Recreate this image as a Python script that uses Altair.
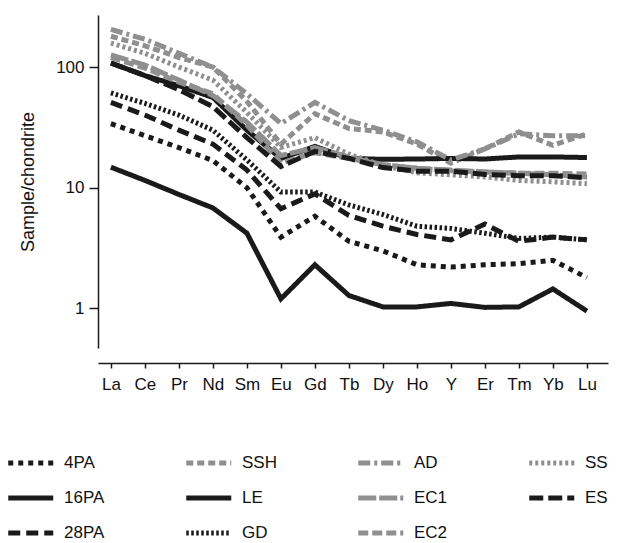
import altair as alt
import pandas as pd

elements = ["La", "Ce", "Pr", "Nd", "Sm", "Eu", "Gd", "Tb", "Dy", "Ho", "Y", "Er", "Tm", "Yb", "Lu"]

s_4PA = [34, 27, 21.5, 16.8, 10, 3.9, 5.8, 3.6, 3.0, 2.3, 2.2, 2.3, 2.35, 2.5, 1.8]
s_16PA = [14.8, 11.5, 8.8, 6.8, 4.2, 1.2, 2.3, 1.28, 1.03, 1.03, 1.1, 1.02, 1.03, 1.45, 0.95]
s_28PA = [51, 40, 30, 23, 14, 6.7, 8.9, 5.9, 4.8, 4.1, 3.7, 5.0, 3.6, 3.9, 3.7]
s_SSH = [180, 150, 120, 100, 52, 23, 41, 31, 29, 23, 16, 21, 29, 22.5, 28]
s_LE = [108, 85, 70, 56, 30, 17.5, 22, 17.5, 17.2, 17.3, 17.5, 17.3, 18, 18, 17.8]
s_GD = [61, 50, 40, 30, 17, 9.2, 9.2, 7.2, 6.0, 4.8, 4.6, 4.2, 3.8, 3.9, 3.7]
s_AD = [205, 170, 130, 100, 60, 34, 51, 36, 30, 24, 17, 21, 28, 27, 27]
s_EC1 = [126, 104, 78, 58, 35, 18.5, 21.5, 18, 15.5, 14.5, 14, 13.5, 13.2, 12.8, 12.3]
s_EC2 = [120, 98, 75, 60, 33, 16, 19.5, 17.5, 15.5, 14.5, 13.8, 13.5, 13.2, 13.2, 13]
s_SS = [158, 130, 100, 78, 42, 21.6, 26, 19, 15.3, 13.3, 12.8, 12.3, 11.5, 11.2, 10.8]
s_ES = [108, 85, 65, 47, 26, 15, 20, 17.5, 14.7, 13.7, 13.7, 12.9, 12.6, 12.6, 12.1]

# legend order (filled column by column, 4 columns x 3 rows)
series_names = ["4PA", "16PA", "28PA", "SSH", "LE", "GD", "AD", "EC1", "EC2", "SS", "ES"]
series_values = {
    "4PA": s_4PA, "16PA": s_16PA, "28PA": s_28PA,
    "SSH": s_SSH, "LE": s_LE, "GD": s_GD,
    "AD": s_AD, "EC1": s_EC1, "EC2": s_EC2,
    "SS": s_SS, "ES": s_ES,
}

BLACK = "#1a1a1a"
GRAY = "#8f8f8f"
colors = [BLACK, BLACK, BLACK, GRAY, BLACK, BLACK, GRAY, GRAY, GRAY, GRAY, BLACK]
dashes = [[5, 5], [1, 0], [12, 6], [7, 4], [1, 0], [2.5, 2.5], [12, 4, 3, 4], [18, 3], [10, 4], [3, 3], [14, 5]]
widths = [5, 5, 5, 3.2, 2.5, 2.5, 3.2, 3.5, 3.5, 3.2, 3]

rows = []
for name in series_names:
    for el, v in zip(elements, series_values[name]):
        rows.append({"series": name, "element": el, "value": v})
df = pd.DataFrame(rows)

FONT = "Liberation Sans"

legend = alt.Legend(
    title=None,
    orient="none",
    legendX=-90,
    legendY=438,
    direction="vertical",
    columns=4,
    symbolType="M-1.3,0H4.7",
    symbolSize=225,
    labelFontSize=17,
    labelFont=FONT,
    labelColor="#111111",
    columnPadding=71,
    rowPadding=15,
    labelOffset=36,
)

chart = alt.Chart(df).mark_line().encode(
    x=alt.X("element:N", sort=elements,
            scale=alt.Scale(type="point", padding=0.5, align=0.38),
            axis=alt.Axis(title=None, labelAngle=0, labelFontSize=17, labelFont=FONT,
                          labelColor="#111111", tickSize=5, tickColor=BLACK, tickWidth=1.5,
                          domainColor=BLACK, domainWidth=1.5, offset=15, labelPadding=8,
                          grid=False)),
    y=alt.Y("value:Q",
            scale=alt.Scale(type="log", domain=[0.47, 270], nice=False),
            axis=alt.Axis(title="Sample/chondrite", values=[1, 10, 100], format="d",
                          labelFontSize=17, labelFont=FONT, labelColor="#111111",
                          titleFontSize=18, titleFont=FONT, titleFontWeight="normal",
                          titleColor="#111111", titlePadding=18,
                          tickSize=9, tickColor=BLACK, tickWidth=1.5,
                          domainColor=BLACK, domainWidth=1.5, grid=False, labelPadding=5)),
    color=alt.Color("series:N", scale=alt.Scale(domain=series_names, range=colors), legend=legend),
    strokeDash=alt.StrokeDash("series:N", scale=alt.Scale(domain=series_names, range=dashes), legend=legend),
    strokeWidth=alt.StrokeWidth("series:N", scale=alt.Scale(domain=series_names, range=widths), legend=legend),
    detail="series:N",
).properties(
    width=510,
    height=333,
    padding={"left": 90, "top": 7, "right": 20, "bottom": 195},
    autosize=alt.AutoSizeParams(type="none"),
).configure_view(stroke=None)

chart.save("out.html", embed_options={"renderer": "svg", "actions": False})
